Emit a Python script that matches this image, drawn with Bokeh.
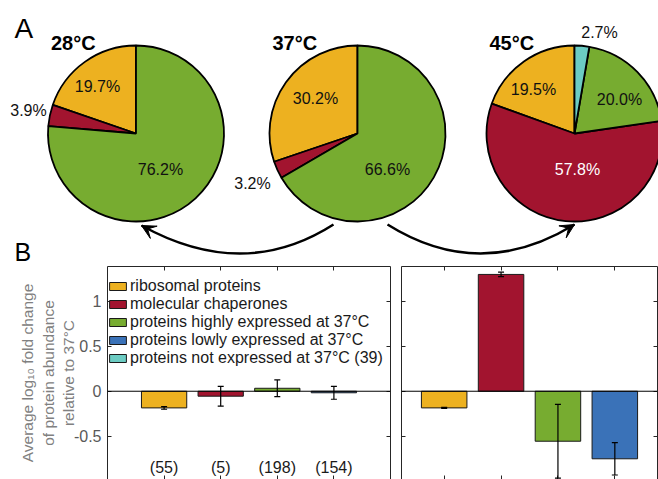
import numpy as np
from bokeh.plotting import figure
from bokeh.models import (Range1d, LinearAxis, FixedTicker, Span, Whisker, ColumnDataSource,
                          Legend, LegendItem, Arrow, VeeHead, TeeHead)
from bokeh.layouts import column, row
from bokeh.core.properties import value
from bokeh.embed import file_html
from bokeh.resources import INLINE

FONT = "Liberation Sans"

# ---------------- data ----------------
pie_titles = ["28°C", "37°C", "45°C"]
pie_categories = ["ribosomal proteins", "molecular chaperones",
                  "proteins highly expressed at 37°C", "proteins not expressed at 37°C (39)"]
pie_28 = [19.7, 3.9, 76.2, 0.0]
pie_37 = [30.2, 3.2, 66.6, 0.0]
pie_45 = [19.5, 57.8, 20.0, 2.7]

bar_categories = ["ribosomal proteins", "molecular chaperones",
                  "proteins highly expressed at 37°C", "proteins lowly expressed at 37°C"]
bar_counts = ["(55)", "(5)", "(198)", "(154)"]
fc_28_mean = [-0.185, -0.055, 0.033, -0.017]
fc_28_err = [0.015, 0.11, 0.093, 0.072]
fc_45_mean = [-0.185, 1.297, -0.555, -0.75]
fc_45_err = [0.005, 0.025, 0.41, 0.18]
y_ticks = [-0.5, 0, 0.5, 1]
y_tick_labels = ["-0.5", "0", "0.5", "1"]
y_label_lines = ["Average log\u2081\u2080 fold change", "of protein abundance", "relative to 37°C"]

# ---------------- styles ----------------
C_RIBO = "#EDB120"
C_CHAP = "#A2142F"
C_HIGH = "#77AC30"
C_LOW = "#3A72B8"
C_NOT = "#6CCCC3"
pie_colors = [C_RIBO, C_CHAP, C_HIGH, C_NOT]
bar_colors = [C_RIBO, C_CHAP, C_HIGH, C_LOW]
AX = "#262626"
TICK_TXT = "#595959"

# ---------------- top figure (pies) ----------------
W = 658
TOP_H = 266
top = figure(width=W, height=TOP_H, x_range=Range1d(0, W), y_range=Range1d(0, TOP_H),
             output_backend="svg", toolbar_location=None, x_axis_type=None, y_axis_type=None,
             min_border=0)
top.grid.visible = False
top.outline_line_color = None


def Y(sy):
    return TOP_H - sy


R = 88
centers_x = [135.5, 357, 574]
center_sy = 133
label_offsets = [
    [(-38.5, -47), (-107.5, -23), (24.5, 36), None],
    [(-42, -35), (-105, 50), (30, 36), None],
    [(-41, -44), (3, 36), (45, -34), (25, -101)],
]
for k, vals in enumerate([pie_28, pie_37, pie_45]):
    v = np.array(vals, dtype=float)
    fr = v / v.sum()
    ends = np.pi / 2 + 2 * np.pi * np.cumsum(fr)
    starts = ends - 2 * np.pi * fr
    keep = fr > 0
    src = ColumnDataSource(dict(start=starts[keep], end=ends[keep],
                                color=list(np.array(pie_colors)[keep])))
    cx, cy = centers_x[k], Y(center_sy)
    top.wedge(x=cx, y=cy, radius=R, start_angle="start", end_angle="end",
              fill_color="color", line_color="black", line_width=1.8, source=src)
    lx, ly, lt, lc = [], [], [], []
    for i, val in enumerate(vals):
        if val <= 0:
            continue
        dx, dy = label_offsets[k][i]
        lx.append(cx + dx)
        ly.append(cy - dy)
        lt.append(f"{val:.1f}%")
        lc.append("white" if (k == 2 and i == 1) else "#111111")
    top.text(x=lx, y=ly, text=lt, text_color=lc, text_font=value(FONT), text_font_size="16px",
             text_align="center", text_baseline="middle")
    top.text(x=[cx - 85], y=[Y(42)], text=[pie_titles[k]], text_font=value(FONT),
             text_font_size="20px", text_font_style="bold", text_align="left",
             text_baseline="middle", text_color="black")

top.text(x=[14], y=[Y(28)], text=["A"], text_font=value(FONT), text_font_size="28px",
         text_align="left", text_baseline="middle", text_color="black")
top.text(x=[14], y=[Y(251.8)], text=["B"], text_font=value(FONT), text_font_size="25px",
         text_align="left", text_baseline="middle", text_color="black")

# curved arrows
for (S, E, M) in [((333, 224), (141, 225), (240, 253)), ((387, 224), (574, 224), (480, 253))]:
    sx0, sy0 = S
    ex, ey = E
    mx, my = M
    cxq = 2 * mx - 0.5 * (sx0 + ex)
    cyq = 2 * my - 0.5 * (sy0 + ey)
    top.quadratic(x0=[sx0], y0=[Y(sy0)], x1=[ex], y1=[Y(ey)], cx=[cxq], cy=[Y(cyq)],
                  line_color="black", line_width=2.5)
    d = np.array([ex - cxq, ey - cyq])
    d = d / np.hypot(*d)
    st = np.array([ex, ey]) - 6 * d
    top.add_layout(Arrow(end=VeeHead(size=14, fill_color="black", line_color="black", line_width=1),
                         x_start=st[0], y_start=Y(st[1]), x_end=ex, y_end=Y(ey),
                         line_color=None, line_width=0))

# ---------------- bar figures ----------------
BAR_H = 479 - TOP_H


def make_axis(ticks, show_labels=False, overrides=None):
    ax = LinearAxis(ticker=FixedTicker(ticks=ticks), minor_tick_line_color=None,
                    major_tick_in=4, major_tick_out=0, axis_line_color=AX,
                    major_tick_line_color=AX, axis_line_width=1)
    if show_labels:
        ax.major_label_text_font = FONT
        ax.major_label_text_font_size = "16px"
        ax.major_label_text_color = TICK_TXT
        ax.major_label_standoff = 6
        if overrides:
            ax.major_label_overrides = overrides
    else:
        ax.major_label_text_font_size = "0px"
        ax.major_label_text_color = None
        ax.major_label_standoff = 0
    return ax


def bar_fig(width, xr, bl, br, means, errs, left_labels):
    p = figure(width=width, height=BAR_H, x_range=xr, y_range=Range1d(-0.98, 1.385),
               output_backend="svg", toolbar_location=None, x_axis_type=None, y_axis_type=None,
               min_border_left=bl, min_border_right=br, min_border_top=0, min_border_bottom=0)
    p.grid.visible = False
    p.outline_line_color = None
    xs = [1, 2, 3, 4]
    m = np.array(means)
    e = np.array(errs)
    src = ColumnDataSource(dict(x=xs, top=m, color=bar_colors, lower=m - e, upper=m + e,
                                name=bar_categories))
    r = p.vbar(x="x", top="top", bottom=0, width=0.8, fill_color="color", line_color="#1a1a1a",
               line_width=1, source=src)
    p.add_layout(Span(location=0, dimension="width", line_color="black", line_width=1))
    w = Whisker(source=src, base="x", upper="upper", lower="lower", line_color="black",
                line_width=1.2,
                upper_head=TeeHead(size=6, line_color="black", line_width=1.2),
                lower_head=TeeHead(size=6, line_color="black", line_width=1.2))
    w.level = "annotation"
    p.add_layout(w)

    overrides = {t: l for t, l in zip(y_ticks, y_tick_labels)}
    la = make_axis(y_ticks, show_labels=left_labels, overrides=overrides)
    if left_labels:
        la.axis_label = "\n".join(y_label_lines)
        la.axis_label_text_font = FONT
        la.axis_label_text_font_size = "15.5px"
        la.axis_label_text_font_style = "normal"
        la.axis_label_text_color = "#808080"
        la.axis_label_text_align = "center"
        la.axis_label_text_line_height = 1.2
        la.axis_label_standoff = -6
    p.add_layout(la, "left")
    p.add_layout(make_axis(y_ticks), "right")
    p.add_layout(make_axis(xs), "above")
    bx = make_axis(xs)
    bx.axis_line_color = None
    p.add_layout(bx, "below")
    return p, r


left, r_left = bar_fig(394, Range1d(0, 5), 107, 4, fc_28_mean, fc_28_err, True)
right, _ = bar_fig(W - 394, Range1d(0.25, 4.75), 7, 1, fc_45_mean, fc_45_err, False)

left.text(x=[1, 2, 3, 4], y=[-0.845] * 4, text=bar_counts, text_font=value(FONT),
          text_font_size="16px", text_align="center", text_baseline="middle", text_color="#1a1a1a")

# legend entry for the category that has no bar (drawn from a renderer with no visible mark)
not_src = ColumnDataSource(dict(x=[np.nan], top=[np.nan]))
not_r = left.vbar(x="x", top="top", width=0.8, fill_color=C_NOT, line_color="#1a1a1a",
                  line_width=1, source=not_src)
items = [LegendItem(label=bar_categories[i], renderers=[r_left], index=i) for i in range(4)]
items.append(LegendItem(label=pie_categories[3], renderers=[not_r], index=0))
legend = Legend(items=items, location=(0, 112), margin=0, padding=4, spacing=0,
                label_height=18, glyph_height=10, glyph_width=21, label_standoff=2,
                label_text_font=FONT, label_text_font_size="16px", label_text_color="#1a1a1a",
                border_line_color=None, background_fill_alpha=0)
left.add_layout(legend, "center")

layout = column(top, row(left, right))
open("out.html", "w").write(file_html(layout, INLINE))
